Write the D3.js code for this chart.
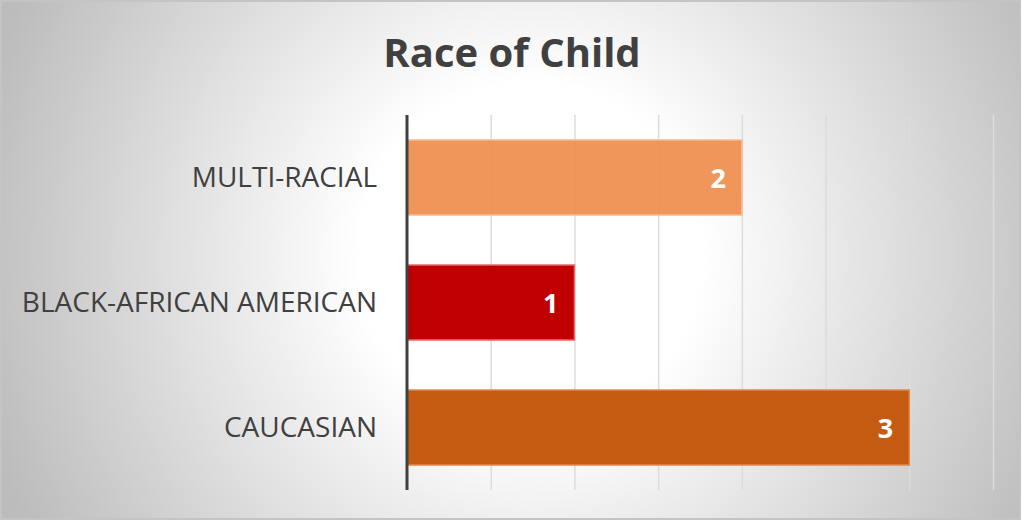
<!DOCTYPE html>
<html>
<head>
<meta charset="utf-8">
<script src="https://cdn.jsdelivr.net/npm/d3@7"></script>
<style>
  html, body { margin: 0; padding: 0; background: #fff; }
  svg { display: block; }
</style>
</head>
<body>
<svg id="chart" width="1022" height="521"></svg>
<script>
// ---- data ----
const title = "Race of Child";
const categories = ["MULTI-RACIAL", "BLACK-AFRICAN AMERICAN", "CAUCASIAN"];
const values = [2, 1, 3];
const barColors = ["#EF8E4F", "#C00000", "#C55A11"];
const barStrokes = ["#F6B98F", "#E46A6A", "#E0894F"];
const xTicks = [0, 0.5, 1, 1.5, 2, 2.5, 3, 3.5];

// ---- layout ----
const W = 1022, H = 521;
const margin = { left: 407, right: 29, top: 115, bottom: 31 };
const svg = d3.select("#chart");
const defs = svg.append("defs");

const bg = defs.append("radialGradient").attr("id", "bg")
  .attr("gradientUnits", "userSpaceOnUse")
  .attr("cx", 530).attr("cy", 255).attr("r", 570);
bg.append("stop").attr("offset", 0).attr("stop-color", "#ffffff");
bg.append("stop").attr("offset", 0.3).attr("stop-color", "#ffffff");
bg.append("stop").attr("offset", 1).attr("stop-color", "#bcbcbc");

const gg = defs.append("linearGradient").attr("id", "grid")
  .attr("gradientUnits", "userSpaceOnUse")
  .attr("x1", 0).attr("y1", margin.top).attr("x2", 0).attr("y2", H - margin.bottom);
gg.append("stop").attr("offset", 0).attr("stop-color", "#dcdcdc");
gg.append("stop").attr("offset", 1).attr("stop-color", "#a0a0a0");

svg.append("rect").attr("x", 1).attr("y", 1).attr("width", W - 3).attr("height", H - 3)
  .attr("fill", "url(#bg)").attr("stroke", "#c4c4c4").attr("stroke-width", 2);

const x = d3.scaleLinear().domain([0, 3.5]).range([margin.left, W - margin.right]);
const y = d3.scaleBand().domain(categories).range([margin.top, H - margin.bottom]).paddingInner(0.4).paddingOuter(0.2);

// gridlines
svg.append("g")
  .attr("transform", `translate(0,${H - margin.bottom})`)
  .call(d3.axisBottom(x).tickValues(xTicks.slice(1)).tickSize(-(H - margin.top - margin.bottom)).tickFormat(""))
  .call(g => g.select(".domain").remove())
  .call(g => g.selectAll(".tick line").attr("stroke", "url(#grid)").attr("stroke-width", 1.5));

// bars
svg.append("g").selectAll("rect").data(categories).join("rect")
  .attr("x", x(0))
  .attr("y", d => y(d))
  .attr("width", (d, i) => x(values[i]) - x(0))
  .attr("height", y.bandwidth())
  .attr("fill", (d, i) => barColors[i])
  .attr("fill-opacity", (d, i) => i === 0 ? 0.93 : 1)
  .attr("stroke", (d, i) => barStrokes[i])
  .attr("stroke-width", 1.5);

// value labels
svg.append("g").selectAll("text").data(categories).join("text")
  .attr("x", (d, i) => x(values[i]) - 16)
  .attr("y", d => y(d) + y.bandwidth() / 2 + 10)
  .attr("text-anchor", "end")
  .attr("font-family", "Open Sans, sans-serif")
  .attr("font-weight", "bold")
  .attr("font-size", 27)
  .attr("fill", "#ffffff")
  .text((d, i) => values[i]);

// y axis
const yAxis = svg.append("g")
  .attr("transform", `translate(${margin.left},0)`)
  .call(d3.axisLeft(y).tickSize(0).tickPadding(30));
yAxis.select(".domain").attr("stroke", "#404040").attr("stroke-width", 3)
  .attr("d", `M0,${margin.top}V${H - margin.bottom}`);
yAxis.selectAll(".tick text")
  .attr("font-family", "Open Sans, sans-serif")
  .attr("font-size", 28)
  .attr("fill", "#404040")
  .attr("dy", "0.35em");

// title
svg.append("text")
  .attr("x", 512).attr("y", 67)
  .attr("text-anchor", "middle")
  .attr("font-family", "Open Sans, sans-serif")
  .attr("font-weight", "bold")
  .attr("font-size", 40)
  .attr("fill", "#404040")
  .text(title);
</script>
</body>
</html>
